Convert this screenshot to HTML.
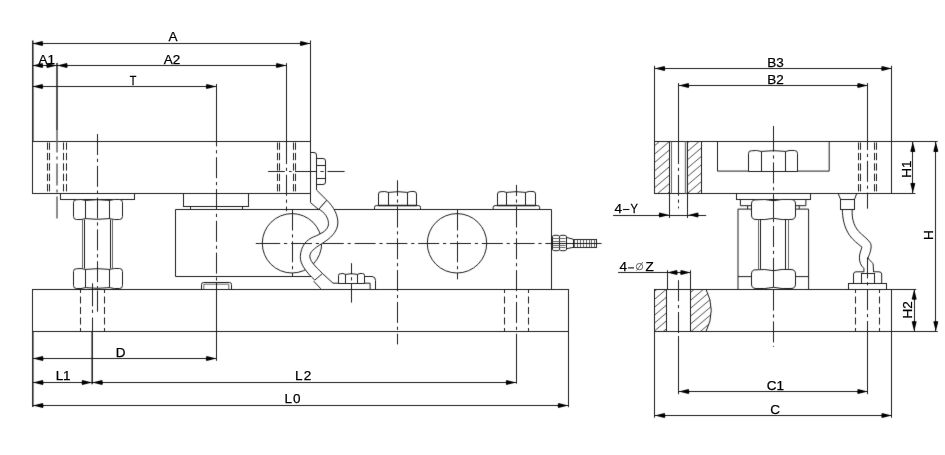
<!DOCTYPE html>
<html><head><meta charset="utf-8"><title>Load cell mounting drawing</title>
<style>
html,body{margin:0;padding:0;background:#fff;}
body{width:945px;height:455px;overflow:hidden;}
svg{display:block;will-change:transform;}
.s{fill:none;stroke:#1c1c1c;stroke-width:1.0;}
.sk{fill:none;stroke:#1c1c1c;stroke-width:1.5;}
.s2{fill:none;stroke:#555;stroke-width:0.9;}
.s3{fill:none;stroke:#777;stroke-width:1.4;}
.h{fill:none;stroke:#1c1c1c;stroke-width:1.0;stroke-dasharray:7.3 3.1;stroke-dashoffset:-0.5;}
.ck{fill:none;stroke:#666;stroke-width:1.5;stroke-dasharray:22 4 3 4;}
.hb{fill:none;stroke:#1c1c1c;stroke-width:1.0;stroke-dasharray:7 3.5;stroke-dashoffset:4;}
.c{fill:none;stroke:#1c1c1c;stroke-width:1.0;stroke-dasharray:21 3.8 3.2 3.8;}
.ht{fill:none;stroke:#222;stroke-width:0.8;}
.f{fill:#000;stroke:none;}
.sw{fill:#fff;stroke:#1c1c1c;stroke-width:1.0;}
text{font-family:"Liberation Sans",sans-serif;fill:#000;stroke:#000;stroke-width:0.25;}
</style></head>
<body><svg width="945" height="455" viewBox="0 0 945 455">
<defs><filter id="bl" color-interpolation-filters="sRGB" filterUnits="userSpaceOnUse" x="0" y="0" width="945" height="455"><feConvolveMatrix order="3" kernelMatrix="0.0064 0.0672 0.0064 0.0672 0.7056 0.0672 0.0064 0.0672 0.0064" divisor="1" edgeMode="duplicate" preserveAlpha="true"/></filter></defs>
<rect x="0" y="0" width="945" height="455" fill="#fff"/>
<g filter="url(#bl)">
<rect x="0" y="0" width="945" height="455" fill="#fff"/>
<rect class="s" x="32.5" y="141.5" width="278.0" height="52.0"/>
<line class="h" x1="47.5" y1="142" x2="47.5" y2="193"/>
<line class="h" x1="49.5" y1="142" x2="49.5" y2="193"/>
<line class="h" x1="63.5" y1="142" x2="63.5" y2="193"/>
<line class="h" x1="66.5" y1="142" x2="66.5" y2="193"/>
<line class="h" x1="277.5" y1="142" x2="277.5" y2="193"/>
<line class="h" x1="279.5" y1="142" x2="279.5" y2="193"/>
<line class="h" x1="293.5" y1="142" x2="293.5" y2="193"/>
<line class="h" x1="295.5" y1="142" x2="295.5" y2="193"/>
<rect class="s" x="60.5" y="193.5" width="74.0" height="6.0"/>
<path class="sw" d="M73.5,202.5 Q73.5,199.5 76.5,199.77 Q81.00,198.96 85.5,200.4 Q97.50,198.96 109.5,200.4 Q114.50,198.96 119.5,199.5 Q122.5,199.5 122.5,202.5 L122.5,216.5 Q122.5,219.5 119.5,219.5 Q114.50,220.04 109.5,218.6 Q97.50,220.04 85.5,218.6 Q81.00,220.04 76.5,219.5 Q73.5,219.5 73.5,216.5 Z"/>
<line class="s" x1="85.5" y1="200.4" x2="85.5" y2="218.6"/>
<line class="s" x1="109.5" y1="200.4" x2="109.5" y2="218.6"/>
<line class="s2" x1="82.5" y1="219.5" x2="82.5" y2="268.5"/>
<line class="s" x1="84.5" y1="219.5" x2="84.5" y2="268.5"/>
<line class="s" x1="110.5" y1="219.5" x2="110.5" y2="268.5"/>
<line class="s2" x1="112.5" y1="219.5" x2="112.5" y2="268.5"/>
<path class="sw" d="M73.5,271.5 Q73.5,268.5 76.5,268.77 Q81.00,267.96 85.5,269.4 Q97.50,267.96 109.5,269.4 Q114.50,267.96 119.5,268.5 Q122.5,268.5 122.5,271.5 L122.5,285.5 Q122.5,288.5 119.5,288.5 Q114.50,289.04 109.5,287.6 Q97.50,289.04 85.5,287.6 Q81.00,289.04 76.5,288.5 Q73.5,288.5 73.5,285.5 Z"/>
<line class="s" x1="85.5" y1="269.4" x2="85.5" y2="287.6"/>
<line class="s" x1="109.5" y1="269.4" x2="109.5" y2="287.6"/>
<rect class="s" x="32.5" y="289.5" width="536.0" height="42.0"/>
<line class="hb" x1="80.5" y1="290" x2="80.5" y2="331"/>
<line class="hb" x1="104.5" y1="290" x2="104.5" y2="331"/>
<line class="hb" x1="504.5" y1="290" x2="504.5" y2="331"/>
<line class="hb" x1="528.5" y1="290" x2="528.5" y2="331"/>
<rect class="s" x="183.5" y="193.5" width="65.0" height="13.0"/>
<path class="s" d="M190.5,206.5 L190.5,209.5 M242.5,206.5 L242.5,209.5"/>
<path class="s" d="M175.5,209.5 L551.5,209.5 L551.5,289.5 M175.5,209.5 L175.5,276.5 L312,276.5 M364.6,276.5 L372,276.5 Q375.5,276.5 375.5,280.5 L375.5,289.5"/>
<path class="s" d="M201.5,289.2 L201.5,284.5 Q201.5,282.5 203.5,282.5 L229.5,282.5 Q231.5,282.5 231.5,284.5 L231.5,289.2"/>
<path class="s2" d="M203.8,289.2 L203.8,284.2 L228.8,284.2 L228.8,289.2"/>
<circle class="s" cx="292" cy="243.3" r="29.7"/>
<circle class="s" cx="457" cy="243.3" r="29.7"/>
<path class="s" d="M374.5,209.2 L374.5,207.4 Q374.5,205.6 376.3,205.6 L418.7,205.6 Q420.5,205.6 420.5,207.4 L420.5,209.2"/>
<path class="sw" d="M378.5,194.0 Q378.5,191.5 381.0,191.77 Q384.75,190.96 388.5,192.4 Q398.00,190.96 407.5,192.4 Q410.75,190.96 414.0,191.5 Q416.5,191.5 416.5,194.0 L416.5,205.5 L378.5,205.5 Z"/>
<line class="s" x1="388.5" y1="192.4" x2="388.5" y2="205.5"/>
<line class="s" x1="407.5" y1="192.4" x2="407.5" y2="205.5"/>
<line class="sk" x1="378.5" y1="205.6" x2="416.5" y2="205.6"/>
<path class="s" d="M493.2,209.2 L493.2,207.4 Q493.2,205.6 495.0,205.6 L537.8000000000001,205.6 Q539.6,205.6 539.6,207.4 L539.6,209.2"/>
<path class="sw" d="M497.5,194.0 Q497.5,191.5 500.0,191.77 Q503.25,190.96 506.5,192.4 Q516.00,190.96 525.5,192.4 Q529.25,190.96 533.0,191.5 Q535.5,191.5 535.5,194.0 L535.5,205.5 L497.5,205.5 Z"/>
<line class="s" x1="506.5" y1="192.4" x2="506.5" y2="205.5"/>
<line class="s" x1="525.5" y1="192.4" x2="525.5" y2="205.5"/>
<line class="sk" x1="497.5" y1="205.6" x2="535.5" y2="205.6"/>
<path class="sw" d="M552.5,236.7 Q552.5,235.5 553.7,235.50 Q556.00,234.96 558.3,235.5 Q559.5,235.5 559.5,236.7 L559.5,249.3 Q559.5,250.5 558.3,250.5 Q556.00,251.04 553.7,250.5 Q552.5,250.5 552.5,249.3 Z"/>
<path class="sw" d="M559.5,236.7 Q559.5,235.5 560.7,235.50 Q563.00,234.96 565.3,235.5 Q566.5,235.5 566.5,236.7 L566.5,249.3 Q566.5,250.5 565.3,250.5 Q563.00,251.04 560.7,250.5 Q559.5,250.5 559.5,249.3 Z"/>
<line class="s2" x1="552.5" y1="238.5" x2="565.5" y2="238.5"/>
<line class="s2" x1="552.5" y1="241.5" x2="565.5" y2="241.5"/>
<line class="s2" x1="552.5" y1="245.5" x2="565.5" y2="245.5"/>
<line class="s2" x1="552.5" y1="247.5" x2="565.5" y2="247.5"/>
<path class="s" d="M566,237.3 L573,239.2 M566,248.8 L573,247.4"/>
<rect class="s" x="573.5" y="239.5" width="23.0" height="8.0"/>
<line class="s2" x1="574.5" y1="239.5" x2="574.5" y2="247.3"/>
<line class="s2" x1="577.5" y1="239.5" x2="577.5" y2="247.3"/>
<line class="s2" x1="580.5" y1="239.5" x2="580.5" y2="247.3"/>
<line class="s2" x1="583.5" y1="239.5" x2="583.5" y2="247.3"/>
<line class="s2" x1="586.5" y1="239.5" x2="586.5" y2="247.3"/>
<line class="s2" x1="589.5" y1="239.5" x2="589.5" y2="247.3"/>
<line class="s2" x1="591.5" y1="239.5" x2="591.5" y2="247.3"/>
<line class="s2" x1="594.5" y1="239.5" x2="594.5" y2="247.3"/>
<path class="s" d="M310.5,152.5 L314,152.5 Q316.5,152.5 316.5,155 L316.5,190 L326.8,200.2 M310.5,193.5 L310.5,202.6 L318.6,209.5 M318.8,209.5 L326.8,200.2"/>
<path class="s" d="M316.5,158.5 L323,158.5 Q325.5,158.5 325.5,161 L325.5,182 Q325.5,184.5 323,184.5 L316.5,184.5"/>
<path class="s" d="M316.5,165.5 L325.5,165.5 M316.5,178.5 L325.5,178.5"/>
<path class="sw" d="M326.8,200.2 C334,207 338.5,216 337.8,224 C337,232 331,238 321.4,243.9 C314,248.5 310,252 309.8,256 C309.8,261 315,266 322.5,273.5 L314.8,280.1 C306,272 300,264 300.3,256.5 C301,246 306,240 313.7,236.8 C322,233.5 328.5,230 328.5,223.6 C328.5,218 324.5,212 318.8,209.2 Z"/>
<path class="s" d="M313.7,281.2 L320.8,288.8 M322.5,273.5 L333,283.2 L370.1,283.2 L370.1,289.2"/>
<path class="sw" d="M338.5,275.5 Q338.5,273.5 340.5,273.77 Q343.00,272.96 345.5,274.4 Q351.50,272.96 357.5,274.4 Q360.00,272.96 362.5,273.5 Q364.5,273.5 364.5,275.5 L364.5,283.5 L338.5,283.5 Z"/>
<line class="s" x1="345.5" y1="274.4" x2="345.5" y2="283.5"/>
<line class="s" x1="357.5" y1="274.4" x2="357.5" y2="283.5"/>
<rect class="s" x="654.5" y="141.5" width="237.0" height="52.0"/>
<line class="s" x1="669.5" y1="141.5" x2="669.5" y2="218"/>
<line class="s" x1="687.5" y1="141.5" x2="687.5" y2="218"/>
<line class="s" x1="701.5" y1="141.5" x2="701.5" y2="193.5"/>
<line class="s2" x1="671.5" y1="141.5" x2="671.5" y2="193.5"/>
<line class="s3" x1="685.5" y1="141.5" x2="685.5" y2="193.5"/>
<path class="s" d="M717.5,141.5 L717.5,171.1 L829.2,171.1 L829.2,141.5"/>
<path class="sw" d="M748.5,153.5 Q748.5,150.5 751.5,150.77 Q756.50,149.96 761.5,151.4 Q773.50,149.96 785.5,151.4 Q790.00,149.96 794.5,150.5 Q797.5,150.5 797.5,153.5 L797.5,171.5 L748.5,171.5 Z"/>
<line class="s" x1="761.5" y1="151.4" x2="761.5" y2="171.5"/>
<line class="s" x1="785.5" y1="151.4" x2="785.5" y2="171.5"/>
<line class="h" x1="858.5" y1="142" x2="858.5" y2="193"/>
<line class="h" x1="860.5" y1="142" x2="860.5" y2="193"/>
<line class="h" x1="874.5" y1="142" x2="874.5" y2="193"/>
<line class="h" x1="876.5" y1="142" x2="876.5" y2="193"/>
<rect class="s" x="736.5" y="193.5" width="74.0" height="6.0"/>
<path class="s" d="M740.4,199.4 L740.4,205.7 L751.4,205.7 M795.7,205.7 L805.9,205.7 L805.9,199.4"/>
<path class="s" d="M747.6,205.7 L747.6,209.1 M799.2,205.7 L799.2,209.1"/>
<path class="s" d="M738,289.2 L738,209.1 L751.4,209.1 M795.7,209.1 L808.6,209.1 L808.6,289.2"/>
<path class="s" d="M738,276.6 L751,276.6 M795.8,276.6 L808.6,276.6"/>
<path class="sw" d="M751.5,204.0 Q751.5,199.5 756.0,199.86 Q764.75,198.78 773.5,200.7 Q782.25,198.78 791.0,199.5 Q795.5,199.5 795.5,204.0 L795.5,215.0 Q795.5,219.5 791.0,219.5 Q782.25,220.22 773.5,218.3 Q764.75,220.22 756.0,219.5 Q751.5,219.5 751.5,215.0 Z"/>
<line class="s" x1="773.5" y1="200.7" x2="773.5" y2="218.3"/>
<path class="sw" d="M751.5,274.0 Q751.5,269.5 756.0,269.86 Q764.75,268.78 773.5,270.7 Q782.25,268.78 791.0,269.5 Q795.5,269.5 795.5,274.0 L795.5,284.0 Q795.5,288.5 791.0,288.5 Q782.25,289.22 773.5,287.3 Q764.75,289.22 756.0,288.5 Q751.5,288.5 751.5,284.0 Z"/>
<line class="s" x1="773.5" y1="270.7" x2="773.5" y2="287.3"/>
<line class="s2" x1="758.5" y1="219" x2="758.5" y2="269.2"/>
<line class="s" x1="760.5" y1="219" x2="760.5" y2="269.2"/>
<line class="s" x1="785.5" y1="219" x2="785.5" y2="269.2"/>
<line class="s2" x1="788.5" y1="219" x2="788.5" y2="269.2"/>
<path class="s" d="M838.2,193.5 L840.6,199.5 M856.7,193.5 L854.5,199.5"/>
<rect class="s" x="840.5" y="199.5" width="14.0" height="10.0"/>
<path class="s" d="M842.3,209.2 C842.5,218 844,227 849.5,235.3 C853,240 858,244 862,247.2 C861,250 859.4,254 859.4,257.8 C859.4,262 861,266 863.9,268.2 L863.9,272"/>
<path class="s" d="M852.2,209.2 C851.8,217 853,225 858.7,231.4 C862,235 868,239 870.6,243.3 C872,247 870.5,252 868,257.8 C869,260 872,262 873.1,263.8 L873.6,272"/>
<path class="s" d="M853.5,283.3 L853.5,274 Q853.5,272 856,271.8 L863.9,271.8 M873.6,271.8 L879,271.8 Q881.7,272 881.7,274 L881.7,283.3"/>
<rect class="s" x="861.5" y="273.5" width="13.0" height="10.0"/>
<rect class="s" x="848.5" y="283.5" width="38.0" height="6.0"/>
<rect class="s" x="654.5" y="289.5" width="237.0" height="42.0"/>
<line class="s" x1="666.5" y1="289.2" x2="666.5" y2="331.5"/>
<line class="s" x1="690.5" y1="289.2" x2="690.5" y2="331.5"/>
<path class="s" d="M706,289.2 Q716.5,310.3 706,331.5"/>
<line class="hb" x1="855.5" y1="290" x2="855.5" y2="331"/>
<line class="hb" x1="879.5" y1="290" x2="879.5" y2="331"/>
<clipPath id="h1"><rect x="654.7" y="141.5" width="14.6" height="52"/><rect x="687.9" y="141.5" width="13.1" height="52"/></clipPath>
<clipPath id="h2"><rect x="654.5" y="289.2" width="12.2" height="42.3"/><path d="M690.6,289.2 L706,289.2 Q716.5,310.3 706,331.5 L690.6,331.5 Z"/></clipPath>
<path class="ht" clip-path="url(#h1)" d="M640,-85.50 L730,-162.00 M640,-77.10 L730,-153.60 M640,-68.70 L730,-145.20 M640,-60.30 L730,-136.80 M640,-51.90 L730,-128.40 M640,-43.50 L730,-120.00 M640,-35.10 L730,-111.60 M640,-26.70 L730,-103.20 M640,-18.30 L730,-94.80 M640,-9.90 L730,-86.40 M640,-1.50 L730,-78.00 M640,6.90 L730,-69.60 M640,15.30 L730,-61.20 M640,23.70 L730,-52.80 M640,32.10 L730,-44.40 M640,40.50 L730,-36.00 M640,48.90 L730,-27.60 M640,57.30 L730,-19.20 M640,65.70 L730,-10.80 M640,74.10 L730,-2.40 M640,82.50 L730,6.00 M640,90.90 L730,14.40 M640,99.30 L730,22.80 M640,107.70 L730,31.20 M640,116.10 L730,39.60 M640,124.50 L730,48.00 M640,132.90 L730,56.40 M640,141.30 L730,64.80 M640,149.70 L730,73.20 M640,158.10 L730,81.60 M640,166.50 L730,90.00 M640,174.90 L730,98.40 M640,183.30 L730,106.80 M640,191.70 L730,115.20 M640,200.10 L730,123.60 M640,208.50 L730,132.00 M640,216.90 L730,140.40 M640,225.30 L730,148.80 M640,233.70 L730,157.20 M640,242.10 L730,165.60 M640,250.50 L730,174.00 M640,258.90 L730,182.40 M640,267.30 L730,190.80 M640,275.70 L730,199.20 M640,284.10 L730,207.60 M640,292.50 L730,216.00 M640,300.90 L730,224.40 M640,309.30 L730,232.80 M640,317.70 L730,241.20 M640,326.10 L730,249.60 M640,334.50 L730,258.00 M640,342.90 L730,266.40 M640,351.30 L730,274.80 M640,359.70 L730,283.20 M640,368.10 L730,291.60 M640,376.50 L730,300.00 M640,384.90 L730,308.40 M640,393.30 L730,316.80 M640,401.70 L730,325.20 M640,410.10 L730,333.60"/>
<path class="ht" clip-path="url(#h2)" d="M640,74.70 L730,-1.80 M640,82.60 L730,6.10 M640,90.50 L730,14.00 M640,98.40 L730,21.90 M640,106.30 L730,29.80 M640,114.20 L730,37.70 M640,122.10 L730,45.60 M640,130.00 L730,53.50 M640,137.90 L730,61.40 M640,145.80 L730,69.30 M640,153.70 L730,77.20 M640,161.60 L730,85.10 M640,169.50 L730,93.00 M640,177.40 L730,100.90 M640,185.30 L730,108.80 M640,193.20 L730,116.70 M640,201.10 L730,124.60 M640,209.00 L730,132.50 M640,216.90 L730,140.40 M640,224.80 L730,148.30 M640,232.70 L730,156.20 M640,240.60 L730,164.10 M640,248.50 L730,172.00 M640,256.40 L730,179.90 M640,264.30 L730,187.80 M640,272.20 L730,195.70 M640,280.10 L730,203.60 M640,288.00 L730,211.50 M640,295.90 L730,219.40 M640,303.80 L730,227.30 M640,311.70 L730,235.20 M640,319.60 L730,243.10 M640,327.50 L730,251.00 M640,335.40 L730,258.90 M640,343.30 L730,266.80 M640,351.20 L730,274.70 M640,359.10 L730,282.60 M640,367.00 L730,290.50 M640,374.90 L730,298.40 M640,382.80 L730,306.30 M640,390.70 L730,314.20 M640,398.60 L730,322.10 M640,406.50 L730,330.00 M640,414.40 L730,337.90 M640,422.30 L730,345.80 M640,430.20 L730,353.70 M640,438.10 L730,361.60 M640,446.00 L730,369.50 M640,453.90 L730,377.40 M640,461.80 L730,385.30 M640,469.70 L730,393.20 M640,477.60 L730,401.10 M640,485.50 L730,409.00 M640,493.40 L730,416.90 M640,501.30 L730,424.80 M640,509.20 L730,432.70 M640,517.10 L730,440.60 M640,525.00 L730,448.50 M640,532.90 L730,456.40 M640,540.80 L730,464.30"/>
<line class="ck" x1="57" y1="130.5" x2="57" y2="218.5"/>
<line class="c" x1="97.5" y1="134" x2="97.5" y2="288"/>
<line class="s" x1="97.5" y1="290.5" x2="97.5" y2="311.7"/>
<line class="c" style="stroke-dashoffset:17.60" x1="216.5" y1="143" x2="216.5" y2="282.5"/>
<line class="c" x1="286.5" y1="143" x2="286.5" y2="211.2"/>
<line class="c" x1="292.5" y1="209.5" x2="292.5" y2="276.5"/>
<line class="c" x1="457.5" y1="209.5" x2="457.5" y2="279.4"/>
<line class="s" x1="255.8" y1="243.5" x2="259.5" y2="243.5"/>
<line class="c" x1="259.2" y1="243.5" x2="552" y2="243.5"/>
<line class="s" x1="552" y1="243.5" x2="601.5" y2="243.5"/>
<line class="s" x1="397.5" y1="180.3" x2="397.5" y2="196"/>
<line class="c" style="stroke-dashoffset:21.30" x1="397.5" y1="196" x2="397.5" y2="344.4"/>
<line class="s" x1="516.5" y1="184.9" x2="516.5" y2="196"/>
<line class="c" style="stroke-dashoffset:21.30" x1="516.5" y1="196" x2="516.5" y2="336"/>
<line class="s" x1="351.5" y1="263.2" x2="351.5" y2="274.3"/>
<line class="s" x1="351.5" y1="277.2" x2="351.5" y2="280.5"/>
<line class="s" x1="351.5" y1="283.2" x2="351.5" y2="302.6"/>
<line class="s" x1="268.1" y1="171.5" x2="284.8" y2="171.5"/>
<line class="s" x1="289" y1="171.5" x2="291.6" y2="171.5"/>
<line class="s" x1="295" y1="171.5" x2="316.2" y2="171.5"/>
<line class="s" x1="320.4" y1="171.5" x2="323.7" y2="171.5"/>
<line class="s" x1="327.5" y1="171.5" x2="344.6" y2="171.5"/>
<line class="s" x1="92.5" y1="283.3" x2="92.5" y2="306.4"/>
<line class="s" x1="92.5" y1="309.7" x2="92.5" y2="313"/>
<line class="s" x1="92.5" y1="317.6" x2="92.5" y2="331"/>
<line class="s" x1="773.5" y1="126" x2="773.5" y2="131"/>
<line class="c" style="stroke-dashoffset:0.00" x1="773.5" y1="130.6" x2="773.5" y2="347"/>
<line class="c" x1="678.5" y1="143" x2="678.5" y2="208.4"/>
<line class="c" x1="678.5" y1="280.2" x2="678.5" y2="336"/>
<line class="c" x1="867.5" y1="129" x2="867.5" y2="208.7"/>
<line class="c" x1="867.5" y1="257.4" x2="867.5" y2="336"/>
<line class="sk" x1="32.8" y1="40.4" x2="32.8" y2="141.5"/>
<line class="s" x1="310.5" y1="40.4" x2="310.5" y2="141.5"/>
<line class="sk" x1="57" y1="63" x2="57" y2="130.5"/>
<line class="s" x1="286.5" y1="63.2" x2="286.5" y2="143"/>
<line class="s" x1="216.5" y1="84" x2="216.5" y2="143"/>
<line class="s" x1="32.5" y1="43.5" x2="310.5" y2="43.5"/>
<path class="f" d="M32.5,43.5 L42.50,41.00 Q43.70,43.50 42.50,46.00 Z"/>
<path class="f" d="M310.5,43.5 L300.50,46.00 Q299.30,43.50 300.50,41.00 Z"/>
<line class="s" x1="32.5" y1="65.5" x2="286.5" y2="65.5"/>
<path class="f" d="M32.5,65.5 L42.50,63.00 Q43.70,65.50 42.50,68.00 Z"/>
<path class="f" d="M57,65.5 L47.00,68.00 Q45.80,65.50 47.00,63.00 Z"/>
<path class="f" d="M57,65.5 L67.00,63.00 Q68.20,65.50 67.00,68.00 Z"/>
<path class="f" d="M286.5,65.5 L276.50,68.00 Q275.30,65.50 276.50,63.00 Z"/>
<line class="s" x1="32.5" y1="86.5" x2="216.5" y2="86.5"/>
<path class="f" d="M32.5,86.5 L42.50,84.00 Q43.70,86.50 42.50,89.00 Z"/>
<path class="f" d="M216.5,86.5 L206.50,89.00 Q205.30,86.50 206.50,84.00 Z"/>
<line class="sk" x1="32.8" y1="331.5" x2="32.8" y2="407"/>
<line class="s" x1="568.5" y1="331.6" x2="568.5" y2="407.2"/>
<line class="sk" x1="92.2" y1="331" x2="92.2" y2="384.3"/>
<line class="s" x1="216.5" y1="282.5" x2="216.5" y2="360.8"/>
<line class="s" x1="516.5" y1="336" x2="516.5" y2="383.7"/>
<line class="s" x1="32.9" y1="358.5" x2="216.5" y2="358.5"/>
<path class="f" d="M32.9,358.5 L42.90,356.00 Q44.10,358.50 42.90,361.00 Z"/>
<path class="f" d="M216.5,358.5 L206.50,361.00 Q205.30,358.50 206.50,356.00 Z"/>
<line class="s" x1="32.9" y1="382.5" x2="516.4" y2="382.5"/>
<path class="f" d="M32.9,382.5 L42.90,380.00 Q44.10,382.50 42.90,385.00 Z"/>
<path class="f" d="M92.2,382.5 L82.20,385.00 Q81.00,382.50 82.20,380.00 Z"/>
<path class="f" d="M92.2,382.5 L102.20,380.00 Q103.40,382.50 102.20,385.00 Z"/>
<path class="f" d="M516.4,382.5 L506.40,385.00 Q505.20,382.50 506.40,380.00 Z"/>
<line class="s" x1="32.9" y1="405.5" x2="568.3" y2="405.5"/>
<path class="f" d="M32.9,405.5 L42.90,403.00 Q44.10,405.50 42.90,408.00 Z"/>
<path class="f" d="M568.3,405.5 L558.30,408.00 Q557.10,405.50 558.30,403.00 Z"/>
<line class="s" x1="654.5" y1="65.8" x2="654.5" y2="141.5"/>
<line class="s" x1="891.5" y1="65.8" x2="891.5" y2="141.5"/>
<line class="s" x1="678.5" y1="83" x2="678.5" y2="143"/>
<line class="s" x1="867.5" y1="83" x2="867.5" y2="129"/>
<line class="s" x1="654.6" y1="68.5" x2="891.8" y2="68.5"/>
<path class="f" d="M654.6,68.5 L664.60,66.00 Q665.80,68.50 664.60,71.00 Z"/>
<path class="f" d="M891.8,68.5 L881.80,71.00 Q880.60,68.50 881.80,66.00 Z"/>
<line class="s" x1="678.6" y1="85.5" x2="867.8" y2="85.5"/>
<path class="f" d="M678.6,85.5 L688.60,83.00 Q689.80,85.50 688.60,88.00 Z"/>
<path class="f" d="M867.8,85.5 L857.80,88.00 Q856.60,85.50 857.80,83.00 Z"/>
<line class="s" x1="678.5" y1="336" x2="678.5" y2="394.2"/>
<line class="s" x1="867.5" y1="336" x2="867.5" y2="394.2"/>
<line class="s" x1="654.5" y1="331.5" x2="654.5" y2="417.7"/>
<line class="s" x1="891.5" y1="331.5" x2="891.5" y2="417.7"/>
<line class="s" x1="678.7" y1="391.5" x2="867.8" y2="391.5"/>
<path class="f" d="M678.7,391.6 L688.70,389.10 Q689.90,391.60 688.70,394.10 Z"/>
<path class="f" d="M867.8,391.6 L857.80,394.10 Q856.60,391.60 857.80,389.10 Z"/>
<line class="s" x1="654.7" y1="415.5" x2="891.9" y2="415.5"/>
<path class="f" d="M654.7,415.5 L664.70,413.00 Q665.90,415.50 664.70,418.00 Z"/>
<path class="f" d="M891.9,415.5 L881.90,418.00 Q880.70,415.50 881.90,413.00 Z"/>
<line class="s" x1="891.8" y1="141.5" x2="937.7" y2="141.5"/>
<line class="s" x1="891.8" y1="193.5" x2="915.4" y2="193.5"/>
<line class="s" x1="891.8" y1="289.5" x2="916.2" y2="289.5"/>
<line class="s" x1="891.8" y1="331.5" x2="937.7" y2="331.5"/>
<line class="s" x1="912.5" y1="141.5" x2="912.5" y2="193.3"/>
<path class="f" d="M912.8,141.5 L915.30,151.50 Q912.80,152.70 910.30,151.50 Z"/>
<path class="f" d="M912.8,193.3 L910.30,183.30 Q912.80,182.10 915.30,183.30 Z"/>
<line class="s" x1="914.5" y1="289.2" x2="914.5" y2="331.5"/>
<path class="f" d="M914.2,289.2 L916.70,299.20 Q914.20,300.40 911.70,299.20 Z"/>
<path class="f" d="M914.2,331.5 L911.70,321.50 Q914.20,320.30 916.70,321.50 Z"/>
<line class="s" x1="935.5" y1="141.5" x2="935.5" y2="331.5"/>
<path class="f" d="M935.8,141.5 L938.30,151.50 Q935.80,152.70 933.30,151.50 Z"/>
<path class="f" d="M935.8,331.5 L933.30,321.50 Q935.80,320.30 938.30,321.50 Z"/>
<line class="s" x1="613.1" y1="215.5" x2="706.2" y2="215.5"/>
<path class="f" d="M669.3,215 L659.30,217.50 Q658.10,215.00 659.30,212.50 Z"/>
<path class="f" d="M688.1,215 L698.10,212.50 Q699.30,215.00 698.10,217.50 Z"/>
<line class="s" x1="618.1" y1="272.5" x2="691" y2="272.5"/>
<line class="s" x1="667.5" y1="270.2" x2="667.5" y2="289.2"/>
<line class="s" x1="690.5" y1="270.2" x2="690.5" y2="289.2"/>
<path class="f" d="M667,272.4 L677.00,269.90 Q678.20,272.40 677.00,274.90 Z"/>
<path class="f" d="M690.8,272.4 L680.80,274.90 Q679.60,272.40 680.80,269.90 Z"/>
</g>
<text x="173" y="41" text-anchor="middle" font-size="13.5">A</text>
<text x="46.7" y="64" text-anchor="middle" font-size="13.5">A1</text>
<text x="172" y="64" text-anchor="middle" font-size="13.5">A2</text>
<text x="0" y="0" text-anchor="middle" font-size="13.5" transform="translate(133,84.6) scale(0.8,1)">T</text>
<text x="120.5" y="356.6" text-anchor="middle" font-size="13.5">D</text>
<text x="55.8" y="380" text-anchor="start" font-size="13.5">L<tspan dx="-0.2">1</tspan></text>
<text x="295.1" y="380" text-anchor="start" font-size="13.5">L<tspan dx="1.2">2</tspan></text>
<text x="284.6" y="403" text-anchor="start" font-size="13.5">L<tspan dx="0.8">0</tspan></text>
<text x="775.5" y="66.7" text-anchor="middle" font-size="13.5">B3</text>
<text x="775.5" y="83.6" text-anchor="middle" font-size="13.5">B2</text>
<text x="775.5" y="390" text-anchor="middle" font-size="13.5">C1</text>
<text x="775" y="413.5" text-anchor="middle" font-size="13.5">C</text>
<text x="911.2" y="169.2" text-anchor="middle" font-size="13.5" transform="rotate(-90 911.2 169.2)">H1</text>
<text x="933.1" y="235" text-anchor="middle" font-size="13.5" transform="rotate(-90 933.1 235)">H</text>
<text x="911.8" y="309.8" text-anchor="middle" font-size="13.5" transform="rotate(-90 911.8 309.8)">H2</text>
<text x="614.5" y="212.7" text-anchor="start" font-size="13.5">4</text>
<line x1="622.9" y1="209.5" x2="629.4" y2="209.5" stroke="#111" stroke-width="1.1"/>
<text x="0" y="0" font-size="13.5" transform="translate(630.4,212.7) scale(0.82,1)">Y</text>
<text x="619.5" y="270.7" text-anchor="start" font-size="13.5">4</text>
<line x1="627.9" y1="267.9" x2="634" y2="267.9" stroke="#111" stroke-width="1.1"/>
<circle cx="639.5" cy="266.6" r="3.2" fill="none" stroke="#555" stroke-width="0.9"/>
<line x1="636.6" y1="270.6" x2="642.8" y2="262.1" stroke="#555" stroke-width="0.9"/>
<text x="645.6" y="270.7" text-anchor="start" font-size="13.5">Z</text>
</svg></body></html>
